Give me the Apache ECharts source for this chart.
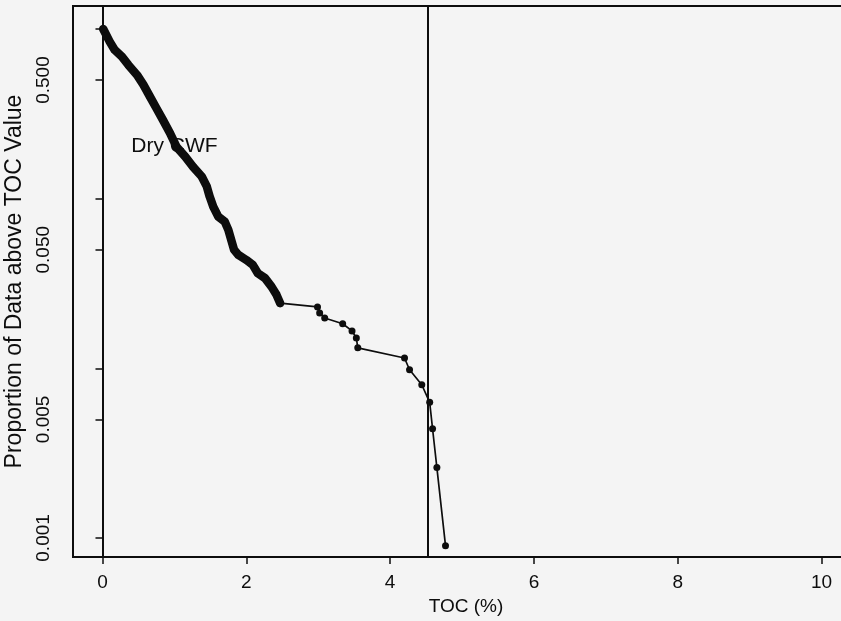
<!DOCTYPE html>
<html>
<head>
<meta charset="utf-8">
<script src="https://cdn.jsdelivr.net/npm/echarts@6/dist/echarts.min.js"></script>
<style>
  html, body { margin: 0; padding: 0; background: #f4f4f4; overflow: hidden; }
  /* the plot box runs on past the right edge of the window */
  #chart { width: 859px; height: 621px; }
</style>
</head>
<body>
<div id="chart"></div>
<script>
// TOC (%) of each sample and the proportion of samples above it
const tocValues = [
  0.01, 0.10, 0.17, 0.27, 0.36, 0.48, 0.57, 0.66, 0.75, 0.84,
  0.94, 1.03, 1.15, 1.26, 1.38, 1.45, 1.49, 1.54, 1.61, 1.70,
  1.75, 1.79, 1.83, 1.89, 2.00, 2.09, 2.16, 2.26, 2.35, 2.42,
  2.47,
  2.99, 3.02, 3.09, 3.34, 3.47, 3.53, 3.55,
  4.20, 4.27, 4.44, 4.55, 4.59, 4.65, 4.77
];
const propValues = [
  0.999, 0.842, 0.752, 0.687, 0.614, 0.536, 0.468, 0.399, 0.341, 0.291,
  0.243, 0.202, 0.177, 0.154, 0.135, 0.118, 0.103, 0.0897, 0.0783, 0.0732,
  0.0654, 0.0571, 0.0499, 0.0466, 0.0435, 0.0407, 0.0363, 0.0340, 0.0303, 0.0271,
  0.0242,
  0.0230, 0.0212, 0.0198, 0.0183, 0.0166, 0.0151, 0.0132,
  0.0115, 0.0098, 0.0080, 0.0063, 0.0044, 0.0026, 0.0009
];

// densely sampled part of the curve (TOC below this value)
const denseLimit = 2.5;

const seriesName = 'Dry CWF';
const seriesLabelPos = [1.0, 0.2046];

const cutoffToc = 4.53;

const xTickValues = [0, 2, 4, 6, 8, 10];
const yTickValues = [1, 0.5, 0.1, 0.05, 0.01, 0.005, 0.001];
const yLabelValues = [0.5, 0.05, 0.005, 0.001];

const points = tocValues.map((t, i) => [t, propValues[i]]);
const densePoints = points.filter(p => p[0] < denseLimit);

const fontFamily = '"Liberation Sans", Arial, Helvetica, sans-serif';
const ink = '#0d0d0d';

const chart = echarts.init(document.getElementById('chart'), null, { renderer: 'canvas' });

chart.setOption({
  backgroundColor: '#f4f4f4',
  animation: false,
  grid: {
    left: 73,
    top: 6,
    right: 0,
    height: 551,
    outerBoundsMode: 'none',
    containLabel: false,
    show: true,
    borderColor: ink,
    borderWidth: 2,
    backgroundColor: 'transparent'
  },
  xAxis: {
    type: 'value',
    min: -0.41,
    max: 10.52,
    name: 'TOC (%)',
    nameLocation: 'middle',
    nameGap: 37,
    nameTextStyle: { fontFamily, fontSize: 19, color: ink },
    axisLine: { show: true, lineStyle: { color: ink, width: 2 } },
    axisTick: { show: true, inside: false, length: 7, lineStyle: { color: ink, width: 1.5 }, customValues: xTickValues },
    axisLabel: { show: true, margin: 16, fontFamily, fontSize: 19, color: ink, customValues: xTickValues },
    splitLine: { show: false }
  },
  yAxis: {
    type: 'log',
    logBase: 10,
    min: 0.000772,
    max: 1.366,
    name: 'Proportion of Data above TOC Value',
    nameLocation: 'middle',
    nameRotate: 90,
    nameGap: 42,
    nameTextStyle: { fontFamily, fontSize: 23, color: ink },
    axisLine: { show: true, lineStyle: { color: ink, width: 2 } },
    axisTick: { show: true, inside: false, length: 7, lineStyle: { color: ink, width: 1.5 }, customValues: yTickValues },
    axisLabel: {
      show: true,
      rotate: 90,
      margin: 20,
      fontFamily,
      fontSize: 19,
      color: ink,
      customValues: yLabelValues,
      formatter: v => Number(v).toFixed(3)
    },
    splitLine: { show: false },
    minorTick: { show: false }
  },
  series: [
    {
      // series name written next to the curve
      type: 'scatter',
      z: 1,
      symbolSize: 0,
      silent: true,
      itemStyle: { opacity: 1, color: ink },
      data: [seriesLabelPos],
      label: {
        show: true,
        position: 'inside',
        formatter: seriesName,
        fontFamily,
        fontSize: 21,
        color: ink,
        opacity: 1
      }
    },
    {
      // heavy band where the samples crowd together
      type: 'line',
      z: 3,
      data: densePoints,
      showSymbol: false,
      symbol: 'none',
      lineStyle: { color: ink, width: 8.5, cap: 'round', join: 'round' },
      silent: true
    },
    {
      type: 'line',
      name: seriesName,
      z: 4,
      data: points,
      symbol: 'circle',
      symbolSize: 7,
      itemStyle: { color: ink },
      lineStyle: { color: ink, width: 1.7 },
      silent: true,
      markLine: {
        silent: true,
        symbol: ['none', 'none'],
        label: { show: false },
        lineStyle: { color: ink, width: 2, type: 'solid' },
        data: [{ xAxis: cutoffToc }]
      }
    }
  ]
});
</script>
</body>
</html>
